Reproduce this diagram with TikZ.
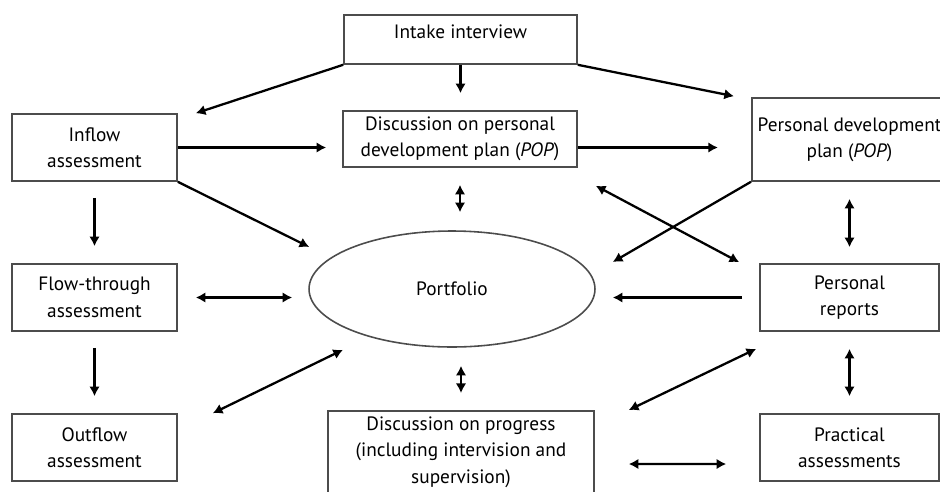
\documentclass[tikz,border=0pt]{standalone}
\usepackage{fontspec}
\setmainfont{PT Sans}
\usetikzlibrary{shapes.geometric,arrows.meta,calc}

\begin{document}
\begin{tikzpicture} [
        x = 0.02cm, y = -0.02cm,
        every node/.style = {align=center, text=black,
                     font=\fontsize{11}{15}\selectfont},
        box/.style = {rectangle, draw=black!70, line width=0.9pt,
                     minimum width=#1, minimum height=1.34cm},% width
        oval/.style = {ellipse, draw=black!70, line width=0.9pt,
                     minimum width=5.72cm, minimum height=2.32cm},
        arr/.style = {line width=1.3pt, -{Latex[length=5.5pt,width=6pt]}},
        dbl/.style = {line width=1.3pt, {Latex[length=5.5pt,width=6pt]}-{Latex[length=5.5pt,width=6pt]}}
    ]

    \useasboundingbox (0,0) rectangle (940,491);

    \node (Intake) [box=4.66cm, minimum height=0.98cm, text depth=9pt] at (460.5,39.5) {Intake interview};
    \node (Inflow) [box=3.3cm] at (94.5,147.5) {Inflow\\assessment};
    \node (DiscPOP) [box=4.68cm, minimum height=1cm] at (460,139) {Discussion on personal\\development plan (\textit{POP})};
    \node (POP) [box=3.58cm, minimum height=1.66cm] at (849.5,139.5) {Personal development\\plan (\textit{POP})};
    \node (Flow) [box=3.3cm] at (94.5,297.5) {Flow-through\\assessment};
    \node (Portfolio) [oval] at (452,289) {Portfolio};
    \node (Reports) [box=3.58cm] at (849.5,297.5) {Personal\\reports};
    \node (Outflow) [box=3.3cm] at (94.5,447.5) {Outflow\\assessment};
    \node (DiscProg) [box=5.32cm, minimum height=1.52cm] at (461,452) {Discussion on progress\\(including intervision and\\supervision)};
    \node (Practical) [box=3.58cm] at (849.5,447.5) {Practical\\assessments};

    \draw [arr] (Intake.south west) -- ($(Inflow.north east)+(18,0)$);
    \draw [arr, shorten >=0.34cm] (Intake.south) -- (Intake.south |- DiscPOP.north);
    \draw [arr] (Intake.south east) -- ($(POP.north west)+(-17,-1)$);
    \draw [arr, shorten >=0.32cm] (Inflow.east) -- (Inflow.east -| DiscPOP.west);
    \draw [arr, shorten >=0.66cm] (DiscPOP.east |- Inflow.east) -- (POP.west |- Inflow.east);
    \draw [arr] (Inflow.south east) -- ($(Portfolio.west)+(1,-42)$);
    \draw [arr, shorten <=0.32cm, shorten >=0.34cm] (Inflow.south) -- (Flow.north);
    \draw [dbl, shorten <=0.34cm, shorten >=0.36cm] (DiscPOP.south) -- (DiscPOP.south |- Portfolio.north);
    \draw [arr] (POP.south west) -- ($(Portfolio.east)+(17,-27)$);
    \draw [dbl] ($(DiscPOP.south east)+(18,18)$) -- ($(Reports.north west)+(-20,-1)$);
    \draw [dbl, shorten <=0.34cm, shorten >=0.32cm] (POP.south) -- (Reports.north);
    \draw [dbl, shorten <=0.36cm, shorten >=0.32cm] (Flow.east) -- (Flow.east -| Portfolio.west);
    \draw [arr, shorten <=0.34cm, shorten >=0.34cm] (Reports.west) -- (Reports.west -| Portfolio.east);
    \draw [arr, shorten <=0.32cm, shorten >=0.34cm] (Flow.south) -- (Outflow.north);
    \draw [dbl] ($(Outflow.north east)+(35,0)$) -- ($(Portfolio.south)+(-109,2)$);
    \draw [dbl, shorten <=0.36cm, shorten >=0.34cm] (DiscProg.north |- Portfolio.south) -- (DiscProg.north);
    \draw [dbl] ($(DiscProg.north east)+(34,0)$) -- ($(Reports.south west)+(-3,17)$);
    \draw [dbl] ($(DiscProg.east)+(34,12)$) -- ($(Practical.west)+(-33,16.5)$);
    \draw [dbl, shorten <=0.34cm, shorten >=0.34cm] (Reports.south) -- (Practical.north);

\end{tikzpicture}
\end{document}
